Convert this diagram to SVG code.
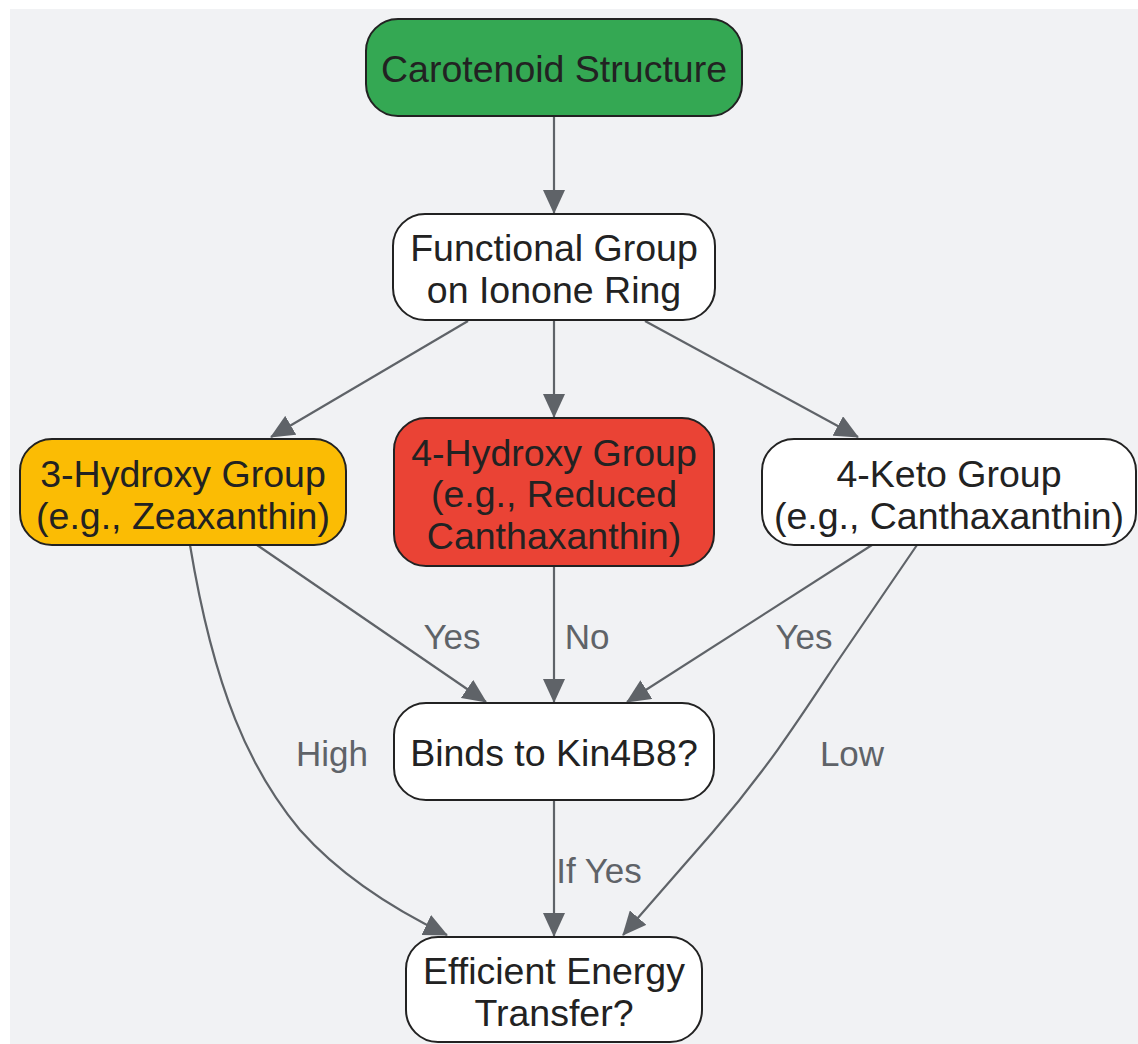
<svg xmlns="http://www.w3.org/2000/svg" width="1138" height="1044" viewBox="0 0 1138 1044">
<defs>
<style>
.node rect{stroke:#222;stroke-width:2}
.node text{font-family:"Liberation Sans",Arial,sans-serif;font-size:37.5px;fill:#222;text-anchor:middle;dominant-baseline:central}
.edge{fill:none;stroke:#5f6368;stroke-width:2.2}
.lbl{font-family:"Liberation Sans",Arial,sans-serif;font-size:35px;fill:#5f6368;text-anchor:middle;dominant-baseline:central}
</style>
<marker id="arr" viewBox="0 0 24 22" refX="23" refY="11" markerWidth="24" markerHeight="22" markerUnits="userSpaceOnUse" orient="auto">
<path d="M0,0 L24,11 L0,22 z" fill="#5f6368"/>
</marker>
</defs>
<rect x="10" y="9" width="1128" height="1035" fill="#f1f2f4"/>
<g id="connectors">
<path class="edge" marker-end="url(#arr)" d="M554,116 L554,213"/>
<path class="edge" marker-end="url(#arr)" d="M468,321 L271,437"/>
<path class="edge" marker-end="url(#arr)" d="M554,320 L554,417"/>
<path class="edge" marker-end="url(#arr)" d="M645,321 L858,437"/>
<path class="edge" marker-end="url(#arr)" d="M257,545 L486,702"/>
<path class="edge" marker-end="url(#arr)" d="M554,566 L554,702"/>
<path class="edge" marker-end="url(#arr)" d="M872,545 L627,702"/>
<path class="edge" marker-end="url(#arr)" d="M190,545 C214,690 250,770 300,830 C340,875 395,910 447,935"/>
<path class="edge" marker-end="url(#arr)" d="M917,545 L835,665 C800,718 768,768 712,833 L623,935"/>
<path class="edge" marker-end="url(#arr)" d="M554,800 L554,936"/>
<text class="lbl" x="452" y="636">Yes</text>
<text class="lbl" x="587" y="636">No</text>
<text class="lbl" x="804" y="636">Yes</text>
<text class="lbl" x="332" y="753">High</text>
<text class="lbl" x="852" y="753">Low</text>
<text class="lbl" x="599" y="870">If Yes</text>
</g>
<g id="carotenoid" class="node">
<rect x="366" y="19" width="376" height="97" rx="32" fill="#34a853"/>
<text x="554" y="69">Carotenoid Structure</text>
</g>
<g id="functional" class="node">
<rect x="393" y="214" width="322" height="106" rx="32" fill="#ffffff"/>
<text x="554" y="248">Functional Group</text>
<text x="554" y="290">on Ionone Ring</text>
</g>
<g id="hydroxy3" class="node">
<rect x="20" y="439" width="326" height="106" rx="32" fill="#fbbc04"/>
<text x="183" y="474">3-Hydroxy Group</text>
<text x="183" y="516">(e.g., Zeaxanthin)</text>
</g>
<g id="hydroxy4" class="node">
<rect x="394" y="418" width="320" height="148" rx="32" fill="#ea4335"/>
<text x="554" y="453">4-Hydroxy Group</text>
<text x="554" y="494">(e.g., Reduced</text>
<text x="554" y="536">Canthaxanthin)</text>
</g>
<g id="keto4" class="node">
<rect x="762" y="439" width="374" height="106" rx="32" fill="#ffffff"/>
<text x="949" y="474">4-Keto Group</text>
<text x="949" y="516">(e.g., Canthaxanthin)</text>
</g>
<g id="binds" class="node">
<rect x="394" y="703" width="320" height="97" rx="32" fill="#ffffff"/>
<text x="554" y="753">Binds to Kin4B8?</text>
</g>
<g id="efficient" class="node">
<rect x="406" y="937" width="296" height="105" rx="32" fill="#ffffff"/>
<text x="554" y="971">Efficient Energy</text>
<text x="554" y="1013">Transfer?</text>
</g>
</svg>
